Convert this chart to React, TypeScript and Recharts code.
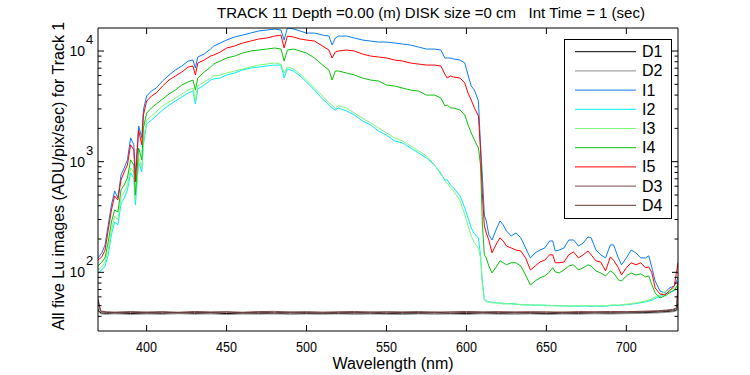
import { LineChart, Line, XAxis, YAxis, Legend } from "recharts";

// wavelength grid (nm) for the five Lu image spectra
const wavelengths = [
  369.6, 372, 374, 376, 378, 380, 382, 384, 386, 388, 390, 392,
  393, 395, 397, 398, 400, 403, 406, 410, 414, 418, 422, 426,
  429, 430.5, 432, 436, 440, 442, 446, 450, 455, 460, 465, 470,
  475, 480, 484, 486, 488, 492, 496, 500, 505, 510, 514, 516,
  518, 520, 525, 530, 535, 540, 545, 550, 555, 560, 565, 570,
  575, 580, 584, 586.5, 588, 590, 592, 596, 599, 601, 603, 605,
  607.5, 608.8, 610, 611.2, 612.4, 614, 616, 619, 621, 623, 625, 628,
  631, 634, 637, 640, 643, 646, 649, 652, 654, 655.5, 658, 661,
  664, 667, 670, 673, 676, 678, 681, 684, 687, 690, 692, 695,
  697, 700, 703, 706, 709, 712, 714, 716, 718, 721, 724, 727,
  730, 732.3,
];

const i1 = [
  135, 150, 177, 268, 406, 544, 470, 759, 877, 1040, 1640, 1420,
  759, 2100, 1640, 2930, 3920, 4350, 4630, 5360, 6070, 6740, 7320, 8120,
  8290, 7020, 8830, 9400, 10420, 11100, 11810, 12570, 13380, 13950, 14540, 15160,
  15480, 15800, 15480, 12570, 16140, 15800, 15160, 14540, 14540, 13950, 13660, 11330,
  13100, 13660, 13660, 13100, 12570, 12310, 12060, 12060, 11810, 11570, 11330, 10870,
  10420, 10420, 10210, 8650, 8650, 8650, 8470, 8290, 7790, 6070, 4830, 4440,
  3530, 1420, 713, 330, 291, 218, 196, 252, 291, 268, 237, 213,
  227, 205, 166, 135, 150, 159, 166, 192, 192, 156, 159, 166,
  196, 196, 173, 184, 209, 205, 159, 144, 135, 177, 177, 135,
  117, 135, 159, 150, 135, 135, 141, 110, 83.6, 67.9, 65.2, 72.3,
  75.4, 89,
];

const i2 = [
  98.8, 105, 114, 144, 218, 285, 268, 415, 470, 555, 791, 713,
  406, 994, 807, 1420, 2190, 2380, 2590, 2930, 3250, 3530, 3840, 4170,
  4350, 3320, 4540, 4930, 5470, 5590, 5700, 6070, 6330, 6740, 7020, 7170,
  7320, 7470, 7470, 5700, 6880, 6600, 5950, 5250, 4440, 3680, 3250, 3060,
  2930, 3060, 2870, 2640, 2330, 2150, 1890, 1740, 1540, 1480, 1330, 1200,
  1080, 934, 774, 684, 684, 616, 579, 490, 382, 310, 252, 222,
  205, 144, 80.2, 57.5, 55.2, 54.0, 53.6, 52.7, 53.0, 52.2, 51.9, 52.4,
  51.5, 51.1, 50.6, 50.9, 50.3, 50.7, 50.1, 50.4, 49.8, 50.2, 49.6, 49.9,
  49.4, 49.8, 49.3, 49.7, 49.5, 49.1, 49.6, 49.2, 49.5, 50.0, 50.3, 50.0,
  50.6, 51.0, 51.5, 52.3, 53.1, 54.2, 55.0, 56.0, 58.0, 60.5, 63.5, 66.0,
  68.5, 72.0,
];

const i3 = [
  105, 112, 124, 159, 242, 323, 297, 470, 532, 616, 877, 807,
  451, 1080, 877, 1570, 2380, 2590, 2810, 3190, 3460, 3760, 4090, 4440,
  4630, 3610, 4830, 5250, 5700, 5950, 6070, 6330, 6600, 6880, 7170, 7470,
  7630, 7790, 7630, 6330, 7170, 6880, 6200, 5470, 4630, 3920, 3390, 3250,
  3060, 3190, 3060, 2750, 2480, 2240, 2020, 1820, 1640, 1540, 1390, 1250,
  1130, 934, 791, 670, 642, 579, 544, 442, 330, 263, 213, 184,
  166, 135, 76.9, 56.3, 54.0, 54.0, 52.9, 53.3, 52.5, 51.8, 52.2, 51.6,
  51.9, 50.8, 51.2, 50.5, 50.9, 50.4, 50.8, 49.9, 50.3, 49.6, 50.0, 49.7,
  50.1, 49.5, 49.9, 49.6, 50.2, 49.8, 49.5, 50.0, 49.7, 50.6, 50.9, 50.5,
  51.0, 51.6, 52.0, 52.9, 54.0, 55.2, 56.3, 57.5, 60.0, 62.5, 66.5, 69.3,
  72.3, 76.9,
];

const i4 = [
  114, 124, 135, 188, 285, 366, 351, 555, 616, 713, 1040, 934,
  500, 1330, 1040, 2020, 2750, 3060, 3320, 3680, 4090, 4440, 4930, 5250,
  5470, 4440, 5700, 6460, 7170, 7630, 8120, 8650, 9010, 9590, 10000, 10210,
  10420, 10640, 10420, 8120, 10210, 10420, 10000, 9590, 8650, 7470, 6740, 5470,
  6600, 6600, 6330, 6070, 5700, 5470, 5360, 4930, 4830, 4630, 4440, 4350,
  4000, 4000, 3760, 3190, 3250, 3060, 3060, 2930, 2640, 2150, 1820, 1570,
  1330, 934, 268, 144, 135, 114, 98.8, 114, 127, 122, 117, 122,
  122, 114, 94.7, 76.9, 83.6, 89, 92.8, 101, 110, 101, 98.8, 105,
  114, 117, 105, 110, 117, 114, 103, 98.8, 92.8, 103, 98.8, 85.4,
  83.6, 92.8, 98.8, 94.7, 96.7, 90.9, 92.8, 76.9, 65.2, 58.7, 61.2, 65.2,
  69.3, 76.9,
];

const i5 = [
  129, 138, 159, 242, 366, 490, 451, 684, 807, 934, 1420, 1280,
  656, 1930, 1420, 2640, 3530, 3920, 4170, 4830, 5470, 5950, 6460, 7170,
  7320, 6070, 7790, 8290, 9010, 9200, 9790, 10640, 11100, 11810, 12310, 12840,
  13100, 13660, 13950, 10640, 13660, 13380, 12840, 12570, 12310, 11100, 10210, 8650,
  9790, 10000, 10210, 10000, 9400, 9010, 8830, 8650, 8290, 8120, 7790, 7630,
  7470, 7470, 7320, 6200, 5700, 5950, 5820, 5700, 5140, 4170, 3610, 3060,
  2590, 1280, 500, 263, 227, 196, 150, 184, 205, 192, 173, 166,
  159, 156, 135, 105, 114, 124, 129, 144, 144, 122, 122, 124,
  144, 153, 135, 144, 156, 144, 127, 124, 103, 138, 129, 110,
  94.7, 110, 122, 117, 122, 110, 112, 98.8, 72.3, 63.8, 62.5, 67.9,
  75.4, 122,
];

// dark frames sampled on their own grid
const darkWavelengths = [
  369.6, 370.5, 371.5, 375, 380, 390, 400, 410, 420, 430, 440, 450,
  460, 470, 480, 490, 500, 510, 520, 530, 540, 550, 560, 570,
  580, 590, 600, 610, 620, 630, 640, 650, 660, 670, 680, 690,
  700, 710, 720, 725, 729, 731.5, 732.3,
];

const d1 = [
  46.5, 44.0, 42.8, 42.5, 42.9, 42.4, 42.8, 42.6, 43.1, 42.5, 42.9, 42.4,
  42.8, 42.6, 42.3, 42.9, 42.5, 42.7, 42.4, 42.9, 42.6, 42.3, 42.8, 42.5,
  42.9, 42.6, 42.4, 42.8, 42.5, 42.9, 42.6, 42.3, 42.7, 42.5, 42.8, 42.6,
  42.9, 43.2, 43.6, 44.2, 44.6, 45.5, 52,
];
const d2 = [
  45, 43.2, 42.1, 41.8, 42.2, 41.7, 42.0, 41.8, 42.3, 41.9, 42.1, 41.6,
  42.0, 41.9, 42.2, 41.7, 42.0, 41.8, 42.1, 41.7, 42.0, 41.9, 41.6, 42.1,
  41.8, 42.0, 41.7, 42.2, 41.9, 41.8, 42.1, 41.7, 42.0, 41.9, 42.2, 42.0,
  42.3, 42.6, 43.0, 43.5, 44.0, 45.0, 50,
];
const d3 = [
  58, 50, 44.6, 44.0, 43.7, 44.2, 43.8, 44.1, 43.6, 44.3, 43.9, 44.0,
  43.6, 44.2, 44.4, 43.8, 44.1, 43.7, 44.0, 44.3, 43.8, 44.1, 43.9, 44.2,
  43.7, 44.0, 44.3, 43.9, 44.2, 43.8, 44.1, 44.0, 43.7, 44.2, 44.0, 44.3,
  44.1, 44.5, 45.0, 45.6, 46.2, 48, 84,
];
const d4 = [
  56, 48, 43.9, 43.4, 43.1, 43.5, 43.2, 43.6, 43.0, 43.4, 43.3, 43.7,
  43.1, 43.5, 43.2, 43.6, 43.3, 43.0, 43.5, 43.2, 43.6, 43.1, 43.4, 43.3,
  43.6, 43.0, 43.4, 43.5, 43.2, 43.6, 43.3, 43.1, 43.5, 43.3, 43.6, 43.4,
  43.7, 44.0, 44.4, 45.0, 45.6, 47, 80,
];

const xTicks = [400, 450, 500, 550, 600, 650, 700];
const yTicks = [
  40, 50, 60, 70, 80, 90,
  100, 200, 300, 400, 500, 600, 700, 800, 900,
  1000, 2000, 3000, 4000, 5000, 6000, 7000, 8000, 9000,
  10000,
];
const majorY = [100, 1000, 10000];

// legend / draw order
const series = [
  { key: "D1", color: "#000000" },
  { key: "D2", color: "#8c8c8c" },
  { key: "I1", color: "#0a7cf5" },
  { key: "I2", color: "#00f0f0" },
  { key: "I3", color: "#7cf77c" },
  { key: "I4", color: "#0cbf0c" },
  { key: "I5", color: "#ff0000" },
  { key: "D3", color: "#7e4b4b" },
  { key: "D4", color: "#683838" },
];

const specRows = wavelengths.map((w, i) => ({
  w,
  I1: i1[i],
  I2: i2[i],
  I3: i3[i],
  I4: i4[i],
  I5: i5[i],
}));

const darkRows = darkWavelengths.map((w, i) => ({
  w,
  D1: d1[i],
  D2: d2[i],
  D3: d3[i],
  D4: d4[i],
}));

const FONT = "'Liberation Sans', Arial, Helvetica, sans-serif";
const X_DOMAIN = [369.6, 732.3];
const Y_DOMAIN = [29.5, 16150];

const BottomTick = (props: any) => {
  const { x, y, payload } = props;
  return (
    <g>
      <line x1={x} x2={x} y1={y} y2={y - 6} stroke="#000" />
      <text
        x={x}
        y={y + 20.5}
        textAnchor="middle"
        fontSize={15}
        fontFamily={FONT}
        textLength={21}
        lengthAdjust="spacingAndGlyphs"
        fill="#000"
      >
        {payload.value}
      </text>
    </g>
  );
};

const TopTick = (props: any) => {
  const { x, y } = props;
  return <line x1={x} x2={x} y1={y} y2={y + 6} stroke="#000" />;
};

const LeftTick = (props: any) => {
  const { x, y, payload } = props;
  const major = majorY.includes(payload.value);
  const exp = Math.round(Math.log10(payload.value));
  return (
    <g>
      <line x1={x} x2={x + (major ? 6 : 3.5)} y1={y} y2={y} stroke="#000" />
      {major && (
        <>
          <text x={x - 13} y={y + 5} textAnchor="end" fontSize={14} fontFamily={FONT} fill="#000">
            10
          </text>
          <text x={x - 12} y={y - 7} textAnchor="start" fontSize={13} fontFamily={FONT} fill="#000">
            {exp}
          </text>
        </>
      )}
    </g>
  );
};

const RightTick = (props: any) => {
  const { x, y, payload } = props;
  const major = majorY.includes(payload.value);
  return <line x1={x} x2={x - (major ? 6 : 3.5)} y1={y} y2={y} stroke="#000" />;
};

const LegendBox = () => (
  <svg width={109} height={181} style={{ display: "block" }}>
    <rect x={0.5} y={0.5} width={107} height={179} fill="#fff" stroke="#000" />
    {series.map((s, i) => {
      const cy = 12.7 + i * 19.2;
      return (
        <g key={s.key}>
          <line x1={11} x2={72} y1={cy} y2={cy} stroke={s.color} strokeWidth={1} />
          <text x={78} y={cy + 5.5} fontSize={16} fontFamily={FONT} fill="#000">
            {s.key}
          </text>
        </g>
      );
    })}
  </svg>
);

export default function App() {
  return (
    <div style={{ position: "absolute", left: 0, top: 0, width: 750, height: 375, background: "#fff" }}>
      <LineChart width={750} height={375} margin={{ top: 27, right: 71, bottom: 43, left: 97 }}>
        <XAxis
          xAxisId="bottom"
          dataKey="w"
          type="number"
          domain={X_DOMAIN}
          allowDataOverflow
          ticks={xTicks}
          height={1}
          tickSize={0}
          tickMargin={0}
          tickLine={false}
          axisLine={{ stroke: "#000" }}
          tick={BottomTick}
          interval={0}
        />
        <XAxis
          xAxisId="top"
          orientation="top"
          dataKey="w"
          type="number"
          domain={X_DOMAIN}
          allowDataOverflow
          ticks={xTicks}
          height={1}
          tickSize={0}
          tickMargin={0}
          tickLine={false}
          axisLine={{ stroke: "#000" }}
          tick={TopTick}
          interval={0}
        />
        <YAxis
          yAxisId="left"
          scale="log"
          domain={Y_DOMAIN}
          allowDataOverflow
          ticks={yTicks}
          width={1}
          tickSize={0}
          tickMargin={0}
          tickLine={false}
          axisLine={{ stroke: "#000" }}
          tick={LeftTick}
          interval={0}
        />
        <YAxis
          yAxisId="right"
          orientation="right"
          scale="log"
          domain={Y_DOMAIN}
          allowDataOverflow
          ticks={yTicks}
          width={1}
          tickSize={0}
          tickMargin={0}
          tickLine={false}
          axisLine={{ stroke: "#000" }}
          tick={RightTick}
          interval={0}
        />
        <Legend
          layout="vertical"
          align="center"
          verticalAlign="middle"
          wrapperStyle={{ position: "absolute", left: 564, top: 39, width: 109, height: 181 }}
          content={LegendBox}
        />
        {series.map((s) => {
          const dark = s.key.startsWith("D");
          return (
            <Line
              key={s.key}
              xAxisId="bottom"
              yAxisId="left"
              data={dark ? darkRows : specRows}
              dataKey={s.key}
              name={s.key}
              stroke={s.color}
              strokeWidth={1}
              dot={false}
              activeDot={false}
              isAnimationActive={false}
            />
          );
        })}
      </LineChart>
      <svg
        width={750}
        height={375}
        style={{ position: "absolute", left: 0, top: 0, pointerEvents: "none" }}
      >
        <text x={431} y={18} textAnchor="middle" fontSize={15} fontFamily={FONT} fill="#000">
          TRACK 11 Depth =0.00 (m) DISK size =0 cm{"\u00a0\u00a0\u00a0"}Int Time = 1 (sec)
        </text>
        <text x={393} y={369} textAnchor="middle" fontSize={16} fontFamily={FONT} fill="#000">
          Wavelength (nm)
        </text>
        <text
          x={64}
          y={176}
          textAnchor="middle"
          fontSize={16}
          fontFamily={FONT}
          fill="#000"
          transform="rotate(-90 64 176)"
        >
          All five Lu images (ADU/pix/sec) for Track 1
        </text>
      </svg>
    </div>
  );
}
